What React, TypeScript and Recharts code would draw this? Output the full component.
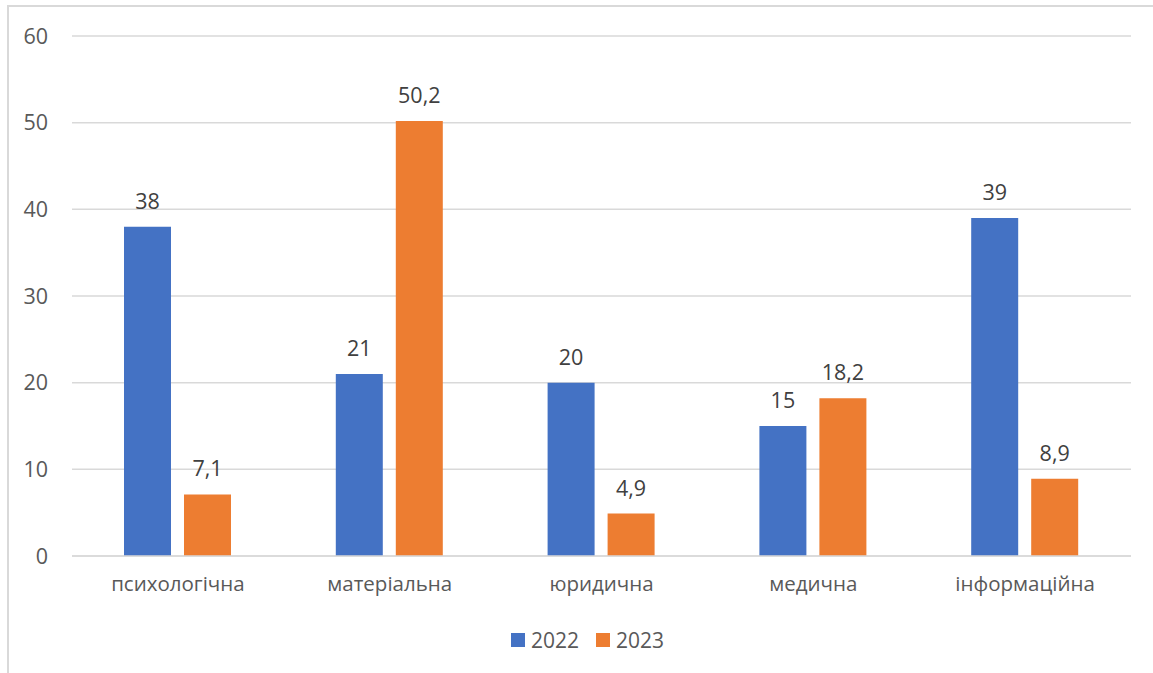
import React from "react";
import { BarChart, Bar, XAxis, YAxis, CartesianGrid, Legend, LabelList } from "recharts";

const categories = ["психологічна", "матеріальна", "юридична", "медична", "інформаційна"];
const values2022 = [38, 21, 20, 15, 39];
const values2023 = [7.1, 50.2, 4.9, 18.2, 8.9];
const yTicks = [0, 10, 20, 30, 40, 50, 60];

const data = categories.map((c, i) => ({ name: c, y2022: values2022[i], y2023: values2023[i] }));

const FONT = "'Segoe UI', 'Open Sans', 'Noto Sans', sans-serif";
const fmt = (v: number) => String(v).replace(".", ",");

const LegendContent = (props: any) => {
  const payload = props.payload || [];
  return (
    <div style={{ display: "flex", justifyContent: "center", alignItems: "center", fontFamily: FONT, fontSize: 21, color: "#595959", paddingLeft: 44 }}>
      {payload.map((p: any, i: number) => (
        <div key={i} style={{ display: "flex", alignItems: "center", marginRight: i === payload.length - 1 ? 0 : 17 }}>
          <span style={{ display: "inline-block", width: 14, height: 14, background: p.color, marginRight: 6 }} />
          <span>{p.value}</span>
        </div>
      ))}
    </div>
  );
};

export default function App() {
  return (
    <div style={{ position: "fixed", left: 0, top: 0, width: 1153, height: 673, background: "#fff", overflow: "hidden" }}>
      <div style={{ position: "absolute", left: 7, top: 5, width: 1200, height: 700, borderLeft: "2px solid #d9d9d9", borderTop: "2px solid #d9d9d9" }} />
      <div style={{ position: "absolute", left: 0, top: 0 }}>
        <BarChart
          width={1153}
          height={673}
          data={data}
          margin={{ top: 36, right: 22, bottom: 7, left: 0 }}
          barCategoryGap={52}
          barGap={13}
        >
          <CartesianGrid vertical={false} stroke="#d9d9d9" strokeWidth={1.5} />
          <XAxis
            dataKey="name"
            axisLine={{ stroke: "#d9d9d9", strokeWidth: 1.5 }}
            tickLine={false}
            tick={{ fill: "#595959", fontSize: 20.5, fontFamily: FONT }}
            tickMargin={14}
            height={70}
          />
          <YAxis
            width={72}
            domain={[0, 60]}
            ticks={yTicks}
            axisLine={false}
            tickLine={false}
            tickMargin={18}
            tick={{ fill: "#595959", fontSize: 21.5, fontFamily: FONT }}
          />
          <Legend verticalAlign="bottom" height={40} content={<LegendContent />} />
          <Bar dataKey="y2022" name="2022" fill="#4472C4" isAnimationActive={false}>
            <LabelList dataKey="y2022" position="top" offset={18} formatter={fmt} style={{ fill: "#404040", fontSize: 21.5, fontFamily: FONT }} />
          </Bar>
          <Bar dataKey="y2023" name="2023" fill="#ED7D31" isAnimationActive={false}>
            <LabelList dataKey="y2023" position="top" offset={18} formatter={fmt} style={{ fill: "#404040", fontSize: 21.5, fontFamily: FONT }} />
          </Bar>
        </BarChart>
      </div>
    </div>
  );
}
